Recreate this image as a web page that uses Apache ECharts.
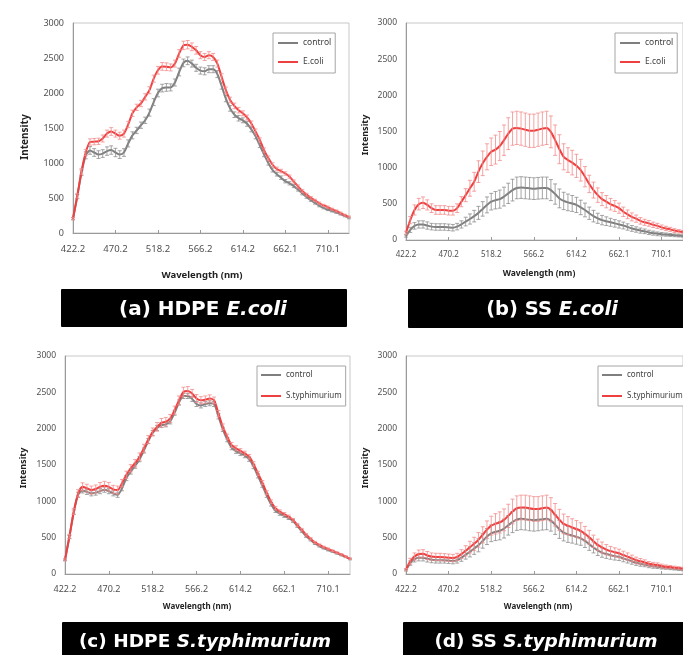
<!DOCTYPE html>
<html>
<head>
<meta charset="utf-8">
<script src="https://cdn.jsdelivr.net/npm/echarts@6/dist/echarts.min.js"></script>
<style>
html,body{margin:0;padding:0;background:#fff;}
#chart{width:683px;height:655px;}
</style>
</head>
<body>
<div id="chart"></div>
<script>
// ---------- DATA ----------
const wavelengths = ['422.2','427.0','431.8','436.6','441.4','446.2','451.0','455.8','460.6','465.4',
  '470.2','475.0','479.8','484.6','489.4','494.2','499.0','503.8','508.6','513.4',
  '518.2','523.0','527.8','532.6','537.4','542.2','547.0','551.8','556.6','561.4',
  '566.2','571.0','575.8','580.6','585.4','590.2','595.0','599.8','604.6','609.4',
  '614.2','619.0','623.8','628.6','633.4','638.2','643.0','647.8','652.6','657.3',
  '662.1','666.9','671.7','676.5','681.3','686.1','690.9','695.7','700.5','705.3',
  '710.1','714.9','719.7','724.5','729.3','734.1'];
const tickLabels = ['422.2','470.2','518.2','566.2','614.2','662.1','710.1'];
const yTicks = [0,500,1000,1500,2000,2500,3000];

// (a) HDPE E.coli
const aGray = [204,520,860,1110,1180,1150,1120,1135,1170,1185,
  1150,1120,1150,1280,1395,1465,1540,1610,1720,1870,
  2000,2070,2080,2080,2150,2300,2430,2460,2420,2360,
  2320,2310,2340,2340,2270,2100,1920,1780,1690,1640,
  1610,1560,1480,1380,1250,1120,1000,900,840,790,
  740,710,670,620,565,515,470,430,390,360,
  335,315,295,270,245,215];
const aGrayErr = [15,30,40,50,55,55,55,55,60,60,
  60,55,55,50,50,45,45,45,50,50,
  55,55,55,50,50,55,55,55,50,50,
  50,50,50,50,50,45,45,40,40,40,
  35,35,35,35,30,30,30,28,26,25,
  24,23,22,21,20,19,18,17,16,15,
  15,14,14,13,13,12];
const aRed = [204,530,880,1150,1300,1305,1310,1350,1420,1450,
  1420,1390,1420,1550,1710,1795,1850,1945,2040,2205,
  2325,2380,2375,2365,2420,2565,2680,2690,2660,2610,
  2540,2515,2540,2515,2420,2230,2040,1900,1815,1755,
  1710,1650,1565,1450,1330,1185,1070,975,915,885,
  850,805,735,665,600,548,502,465,425,395,
  370,340,315,285,255,230];
const aRedErr = [15,30,40,45,45,45,45,50,50,55,
  50,50,50,45,45,45,45,45,50,50,
  55,55,55,50,50,55,60,60,55,55,
  50,50,50,50,50,45,45,40,40,40,
  35,35,35,35,30,30,30,28,26,25,
  24,23,22,21,20,19,18,17,16,15,
  15,14,14,13,13,12];

// (b) SS E.coli
const bGray = [55,140,195,215,215,200,185,180,180,180,
  175,170,185,215,255,290,330,375,430,485,
  530,550,565,600,645,690,720,725,720,715,
  710,715,720,720,690,635,575,540,520,505,
  485,450,415,370,330,300,275,260,245,230,
  215,200,180,160,145,130,120,105,95,85,
  80,75,70,65,60,55];
const bGrayErr = [15,35,45,50,50,50,45,45,45,45,
  45,45,45,50,60,70,80,90,100,110,
  115,120,125,130,140,150,150,150,150,150,
  150,150,150,150,145,140,130,120,115,110,
  105,100,95,85,80,70,65,60,55,52,
  50,47,44,40,37,35,32,30,28,26,
  24,22,20,19,18,17];
const bRed = [100,275,415,495,515,485,440,415,415,415,
  405,405,440,530,620,715,805,945,1060,1150,
  1220,1250,1300,1380,1470,1540,1550,1540,1525,1510,
  1510,1525,1540,1550,1495,1380,1255,1150,1105,1070,
  1025,965,875,775,690,620,565,530,495,470,
  440,390,355,320,295,265,245,230,210,195,
  175,160,147,130,120,110];
const bRedErr = [20,50,70,80,80,70,60,60,60,60,
  60,60,60,70,90,110,130,150,170,180,
  190,200,200,210,220,230,230,230,230,230,
  230,230,230,230,220,210,200,180,170,170,
  160,150,140,120,110,100,90,85,80,75,
  70,65,60,55,50,45,42,40,37,35,
  32,30,28,26,24,22];

// (c) HDPE S.typhimurium
const cGray = [195,510,850,1090,1150,1130,1110,1120,1140,1160,
  1140,1110,1090,1180,1320,1410,1490,1580,1700,1830,
  1940,2010,2050,2060,2100,2220,2360,2450,2450,2410,
  2340,2320,2340,2350,2340,2170,1990,1850,1740,1690,
  1660,1630,1580,1480,1350,1220,1080,960,870,830,
  800,770,730,660,590,520,470,420,385,355,
  330,310,285,260,235,205];
const cGrayErr = [10,20,30,35,35,35,35,35,35,35,
  35,35,35,35,35,35,35,35,35,35,
  35,35,35,35,35,35,35,35,35,35,
  35,35,35,35,35,35,30,30,30,30,
  30,30,30,30,28,26,25,24,23,22,
  21,20,19,18,17,16,15,14,13,12,
  12,11,11,10,10,10];
const cRed = [195,515,860,1110,1200,1180,1155,1170,1200,1215,
  1200,1165,1155,1250,1365,1455,1525,1615,1730,1850,
  1955,2025,2080,2095,2140,2255,2390,2505,2520,2485,
  2415,2390,2400,2415,2390,2210,2025,1890,1775,1730,
  1695,1660,1615,1515,1385,1260,1120,995,905,860,
  825,790,745,675,610,540,485,435,400,370,
  345,320,295,270,240,210];
const cRedErr = [15,30,40,50,55,55,55,55,60,60,
  60,55,55,50,50,50,50,50,55,55,
  55,60,60,60,55,55,60,65,60,55,
  55,50,50,50,45,40,40,35,35,35,
  30,30,30,30,28,26,25,24,23,22,
  21,20,19,18,17,16,15,14,13,12,
  12,11,11,10,10,10];

// (d) SS S.typhimurium
const dGray = [55,150,205,225,225,210,195,190,190,190,
  185,180,190,225,265,305,350,395,455,515,
  560,580,595,625,670,715,750,760,755,745,
  740,745,755,760,735,680,615,570,545,530,
  510,490,455,410,365,325,295,275,260,245,
  235,215,195,175,155,140,130,115,105,100,
  90,85,78,72,66,60];
const dGrayErr = [12,30,40,45,45,45,40,40,40,40,
  40,40,40,50,60,70,80,90,100,110,
  115,120,125,130,135,145,150,150,150,150,
  150,150,150,150,145,135,125,115,110,105,
  100,95,90,85,75,70,65,60,57,53,
  50,47,44,40,36,33,30,28,26,24,
  22,20,18,17,16,15];
const dRed = [60,175,240,275,280,255,240,235,235,230,
  225,220,235,275,320,370,415,470,540,610,
  665,690,710,745,800,860,905,915,915,905,
  895,895,905,915,885,815,745,690,665,640,
  620,595,555,505,450,400,365,335,315,300,
  285,260,240,215,190,175,160,140,130,125,
  110,100,95,88,82,75];
const dRedErr = [15,40,50,55,55,55,50,50,50,50,
  50,50,50,60,70,80,90,100,110,120,
  130,140,145,150,160,170,170,170,170,170,
  170,170,170,170,165,155,145,135,125,120,
  115,110,100,95,85,80,75,70,65,60,
  57,54,50,45,42,38,35,32,30,28,
  26,24,22,20,18,17];

const seriesNames = ['control','E.coli','S.typhimurium'];
const panelLabels = [['(a) HDPE ','E.coli'],['(b) SS ','E.coli'],['(c) HDPE ','S.typhimurium'],['(d) SS ','S.typhimurium']];

// ---------- LAYOUT ----------
const FONT = 'Noto Sans';
const LABEL_FONT = 'DejaVu Sans';
const RED = '#EE4040', RED_ERR = '#F28C8C', GRAY = '#7F7F7F', GRAY_ERR = '#8E8E8E';
const panels = [
  {grid:{left:73,top:23,width:276,height:210}, g:aGray, ge:aGrayErr, r:aRed, re:aRedErr, rName:seriesNames[1],
   legend:{left:273,top:33,itemGap:5,padding:[3,4,4,5],fs:8.5}, xFs:9.5, yFs:9,
   yTitle:[25,137], xTitle:[202,275], yT:10, xT:9.5,
   box:{x:61,y:289,w:286,h:38}, lab:panelLabels[0], labX:203, labY:310, labFs:20},
  {grid:{left:406,top:23,width:284,height:217}, g:bGray, ge:bGrayErr, r:bRed, re:bRedErr, rName:seriesNames[1],
   legend:{left:615,top:33,itemGap:5,padding:[3,4,4,5],fs:8.5}, xFs:8, yFs:8.5,
   yTitle:[365,135], xTitle:[539,274], yT:9, xT:8.5,
   box:{x:408,y:289,w:290,h:39}, lab:panelLabels[1], labX:552, labY:310, labFs:19.5},
  {grid:{left:65,top:356,width:285,height:218}, g:cGray, ge:cGrayErr, r:cRed, re:cRedErr, rName:seriesNames[2],
   legend:{left:257,top:366,itemGap:7,padding:[2,4,3,4],fs:8}, xFs:9, yFs:8.5,
   yTitle:[23,468], xTitle:[197,607], yT:9, xT:8,
   box:{x:62,y:622,w:286,h:40}, lab:panelLabels[2], labX:205, labY:642, labFs:18.5},
  {grid:{left:406,top:356,width:283,height:218}, g:dGray, ge:dGrayErr, r:dRed, re:dRedErr, rName:seriesNames[2],
   legend:{left:598,top:366,itemGap:7,padding:[2,4,3,4],fs:8}, xFs:8.5, yFs:8.5,
   yTitle:[365,468], xTitle:[538,607], yT:9, xT:8,
   box:{x:403,y:622,w:295,h:40}, lab:panelLabels[3], labX:546, labY:642, labFs:18.5}
];

function errData(mean, err){
  return mean.map((v,i)=>[i, v-(err[i]||0), v+(err[i]||0)]);
}
function errRenderer(color){
  return function(params, api){
    const x = api.value(0);
    const lo = api.coord([x, api.value(1)]);
    const hi = api.coord([x, api.value(2)]);
    const w = 2;
    const st = {stroke: color, lineWidth: 0.8, fill: null};
    return {type:'group', children:[
      {type:'line', shape:{x1:lo[0],y1:lo[1],x2:hi[0],y2:hi[1]}, style:st},
      {type:'line', shape:{x1:hi[0]-w,y1:hi[1],x2:hi[0]+w,y2:hi[1]}, style:st},
      {type:'line', shape:{x1:lo[0]-w,y1:lo[1],x2:lo[0]+w,y2:lo[1]}, style:st}
    ]};
  };
}

const option = {
  animation:false,
  backgroundColor:'#fff',
  grid:[], xAxis:[], yAxis:[], series:[], legend:[], graphic:[]
};

panels.forEach((p, k)=>{
  option.grid.push(Object.assign({show:true, borderColor:'#c8c8c8', borderWidth:1, backgroundColor:'transparent'}, p.grid));
  option.xAxis.push({
    type:'category', gridIndex:k, data:wavelengths, boundaryGap:false,
    axisLine:{lineStyle:{color:'#9a9a9a', width:1}},
    axisTick:{show:true, inside:true, length:3, interval:9, lineStyle:{color:'#9a9a9a'}},
    axisLabel:{interval:9, margin:11, fontSize:p.xFs, color:'#505050', fontFamily:FONT,
      formatter:(v, idx)=> tickLabels[Math.round(idx/10)] || v},
    splitLine:{show:false}
  });
  option.yAxis.push({
    type:'value', gridIndex:k, min:yTicks[0], max:yTicks[yTicks.length-1], interval:500,
    axisLine:{show:true, lineStyle:{color:'#9a9a9a', width:1}},
    axisTick:{show:false},
    axisLabel:{margin:9, fontSize:p.yFs, color:'#505050', fontFamily:FONT, formatter:(v)=>String(v)},
    splitLine:{show:false}
  });
  option.series.push({
    name:seriesNames[0], type:'line', xAxisIndex:k, yAxisIndex:k, data:p.g,
    symbol:'none', smooth:0.25, lineStyle:{color:GRAY, width:2}, itemStyle:{color:GRAY}, z:3
  });
  option.series.push({
    name:'err_g'+k, type:'custom', xAxisIndex:k, yAxisIndex:k, data:errData(p.g, p.ge),
    encode:{x:0, y:[1,2]}, renderItem:errRenderer(GRAY_ERR), z:4, silent:true
  });
  option.series.push({
    name:p.rName, type:'line', xAxisIndex:k, yAxisIndex:k, data:p.r,
    symbol:'none', smooth:0.25, lineStyle:{color:RED, width:2}, itemStyle:{color:RED}, z:5
  });
  option.series.push({
    name:'err_r'+k, type:'custom', xAxisIndex:k, yAxisIndex:k, data:errData(p.r, p.re),
    encode:{x:0, y:[1,2]}, renderItem:errRenderer(RED_ERR), z:6, silent:true
  });
  option.legend.push({
    data:[seriesNames[0], p.rName], orient:'vertical', left:p.legend.left, top:p.legend.top,
    icon:'rect', itemWidth:20, itemHeight:2, itemGap:p.legend.itemGap, padding:p.legend.padding,
    borderColor:'#a6a6a6', borderWidth:1, backgroundColor:'#fff', selectedMode:false,
    textStyle:{fontSize:p.legend.fs, lineHeight:14, color:'#404040', fontFamily:FONT}
  });
  // axis titles
  option.graphic.push({
    type:'text', x:p.yTitle[0], y:p.yTitle[1], rotation:Math.PI/2,
    style:{text:'Intensity', fill:'#222', font:'bold '+p.yT+'px "'+FONT+'"', align:'center', verticalAlign:'middle'}
  });
  option.graphic.push({
    type:'text', x:p.xTitle[0], y:p.xTitle[1],
    style:{text:'Wavelength (nm)', fill:'#222', font:'bold '+p.xT+'px "'+FONT+'"', align:'center', verticalAlign:'middle'}
  });
  // black label box
  option.graphic.push({
    type:'rect', shape:{x:p.box.x, y:p.box.y, width:p.box.w, height:p.box.h, r:1},
    style:{fill:'#000'}
  });
  option.graphic.push({
    type:'text', x:p.labX, y:p.labY,
    style:{
      text:'{n|'+p.lab[0]+'}{i|'+p.lab[1]+'}',
      align:'center', verticalAlign:'middle', fill:'#fff',
      rich:{
        n:{fontSize:p.labFs, fontWeight:'bold', fontFamily:LABEL_FONT, fill:'#fff', color:'#fff'},
        i:{fontSize:p.labFs, fontWeight:'bold', fontStyle:'italic', fontFamily:LABEL_FONT, fill:'#fff', color:'#fff'}
      }
    }
  });
});

const chart = echarts.init(document.getElementById('chart'), null, {renderer:'canvas'});
chart.setOption(option);
</script>
</body>
</html>
